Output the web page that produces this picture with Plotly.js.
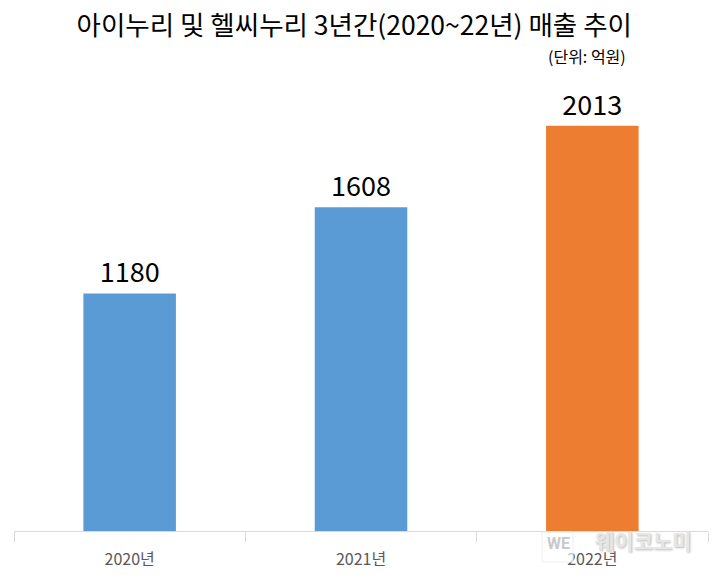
<!DOCTYPE html>
<html><head><meta charset="utf-8"><script src="https://cdn.plot.ly/plotly-3.0.1.min.js"></script>
<style>html,body{margin:0;padding:0;background:#fff}</style></head>
<body><div id="c" style="width:723px;height:580px"></div>
<script>
const categories=["2020년","2021년","2022년"];
const values=[1180,1608,2013];
const barColors=["#5b9bd5","#5b9bd5","#ed7d31"];
const titleText="아이누리 및 헬씨누리 3년간(2020~22년) 매출 추이";
const unitText="(단위: 억원)";
const markText="웨이코노미";
const F="'Noto Sans CJK KR'";
const px=x=>(x-14)/694, py=y=>(531-y)/453;
Plotly.newPlot("c",[{type:"bar",x:categories,y:values,marker:{color:barColors},
 text:values.map(String),textposition:"outside",cliponaxis:false,
 textfont:{family:F,size:27,color:"#000"}}],
{width:723,height:580,margin:{l:14,r:15,t:78,b:49},paper_bgcolor:"#fff",plot_bgcolor:"#fff",showlegend:false,bargap:0.6,
 title:{text:titleText,font:{family:F,size:26.5,color:"#000"},x:0.49,xanchor:"center",y:0.955,yanchor:"middle"},
 xaxis:{type:"category",tickson:"boundaries",ticks:"outside",ticklen:10,tickcolor:"#d9d9d9",linecolor:"#d9d9d9",showline:true,
  tickfont:{family:F,size:16,color:"#595959"},showgrid:false,ticklabelstandoff:14},
 yaxis:{range:[0,2250],visible:false,showgrid:false,zeroline:false},
 shapes:[{type:"rect",xref:"paper",yref:"paper",x0:px(542),x1:px(573),y0:py(532),y1:py(562),fillcolor:"rgba(255,255,255,0.6)",line:{color:"#eeeeee",width:1},layer:"above"}],
 annotations:[
  {text:unitText,xref:"paper",yref:"paper",x:px(587),y:py(56),xanchor:"center",yanchor:"middle",showarrow:false,font:{family:F,size:16,color:"#000"}},
  {text:"WE",xref:"paper",yref:"paper",x:px(558),y:py(543),xanchor:"center",yanchor:"middle",showarrow:false,font:{family:"Roboto",size:16,color:"#c9c9c9",weight:700}},
  {text:markText,xref:"paper",yref:"paper",x:px(643),y:py(540),xanchor:"center",yanchor:"middle",showarrow:false,font:{family:F,size:21,color:"#e6e6e6",weight:700,shadow:"1px 1px 2px #bbbbbb"}}
 ]
},{displayModeBar:false});
</script></body></html>
